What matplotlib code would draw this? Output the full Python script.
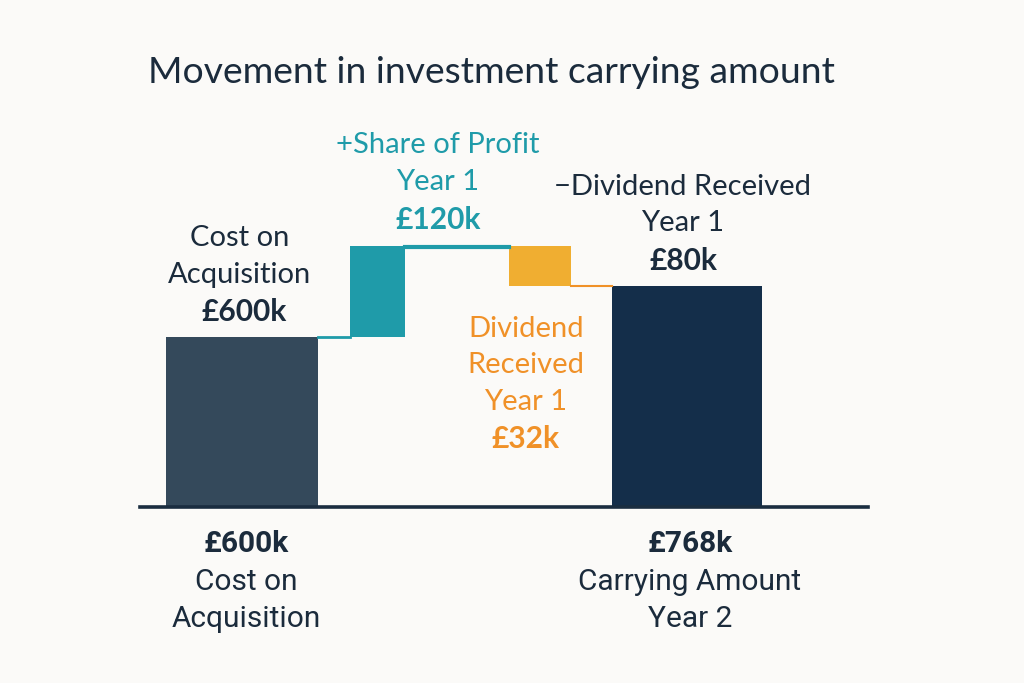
import matplotlib
matplotlib.use("Agg")
import matplotlib.pyplot as plt

# values as drawn in the chart (bar extents, in k)
start_value = 600
profit_drawn = 321
dividend_drawn = 141
end_value = start_value + profit_drawn - dividend_drawn

# label text
title = "Movement in investment carrying amount"
cost_lines = ["Cost on", "Acquisition"]
cost_amount = "£600k"
profit_lines = ["+Share of Profit", "Year 1"]
profit_amount = "£120k"
divtop_lines = ["\u2212Dividend Received", "Year 1"]
divtop_amount = "£80k"
div_lines = ["Dividend", "Received", "Year 1"]
div_amount = "£32k"
bottom_amounts = ["£600k", "£768k"]
bottom_lines = [["Cost on", "Acquisition"], ["Carrying Amount", "Year 2"]]

bg = "#fbfaf8"
navy = "#1b2b3c"
slate = "#34495b"
dark = "#142e4a"
teal = "#1f9ba9"
gold = "#f0ae31"
orange = "#f09128"

plt.rcParams["font.family"] = ["Lato", "DejaVu Sans"]

fig = plt.figure(figsize=(10.24, 6.83), dpi=100, facecolor=bg)
W, H = 1024, 683
ax = fig.add_axes([140 / W, (H - 507) / H, 728 / W, 407 / H])
ax.set_facecolor(bg)
ax.set_xlim(0, 7.28)
ax.set_ylim(0, 407 / 0.2833)

centers = [1.02, 2.375, 4.0, 5.47]
widths = [1.52, 0.55, 0.62, 1.50]

ax.bar(centers[0], start_value, width=widths[0], color=slate)
ax.bar(centers[1], profit_drawn, bottom=start_value, width=widths[1], color=teal)
ax.bar(centers[2], -dividend_drawn, bottom=start_value + profit_drawn, width=widths[2], color=gold)
ax.bar(centers[3], end_value, width=widths[3], color=dark)


def edge(i, side):
    return centers[i] + side * widths[i] / 2


ax.plot([edge(0, 1), edge(1, -1)], [start_value, start_value], color=teal, lw=2)
ax.plot([edge(1, 1), edge(2, -1)], [start_value + profit_drawn - 4] * 2, color=teal, lw=3)
ax.plot([edge(2, 1), edge(3, -1)], [end_value] * 2, color=orange, lw=1.5)
ax.axhline(0, color="#1a2d40", lw=2.6, zorder=5, clip_on=False)

for s in ax.spines.values():
    s.set_visible(False)
ax.set_xticks([])
ax.set_yticks([])


def ft(x, y, s, **kw):
    fig.text(x / W, 1 - y / H, s, ha="center", va="baseline", **kw)


ft(491, 83, title, fontsize=26.8, color=navy)

fs = 21
fb = 21.5
ft(240, 246, cost_lines[0], fontsize=fs, color=navy)
ft(240, 283, cost_lines[1], fontsize=fs, color=navy)
ft(244, 321, cost_amount, fontsize=fb, color=navy, fontweight="bold")

ft(438, 153, profit_lines[0], fontsize=fs, color=teal)
ft(438, 190, profit_lines[1], fontsize=fs, color=teal)
ft(438, 229, profit_amount, fontsize=fb, color=teal, fontweight="bold")

ft(683, 195, divtop_lines[0], fontsize=fs, color=navy)
ft(683, 231, divtop_lines[1], fontsize=fs, color=navy)
ft(684, 270, divtop_amount, fontsize=fb, color=navy, fontweight="bold")

for y, s in zip([337, 373, 410], div_lines):
    ft(526, y, s, fontsize=fs, color=orange)
ft(526, 448, div_amount, fontsize=fb, color=orange, fontweight="bold")

bfam = ["Roboto", "DejaVu Sans"]
for x, amt, lines in zip([246, 690], bottom_amounts, bottom_lines):
    ft(x, 552, amt, fontsize=fb, color=navy, fontweight="bold", family=bfam)
    ft(x, 590, lines[0], fontsize=21.5, color=navy, family=bfam)
    ft(x, 627, lines[1], fontsize=21.5, color=navy, family=bfam)

fig.savefig("out.png", dpi=100, facecolor=bg)
